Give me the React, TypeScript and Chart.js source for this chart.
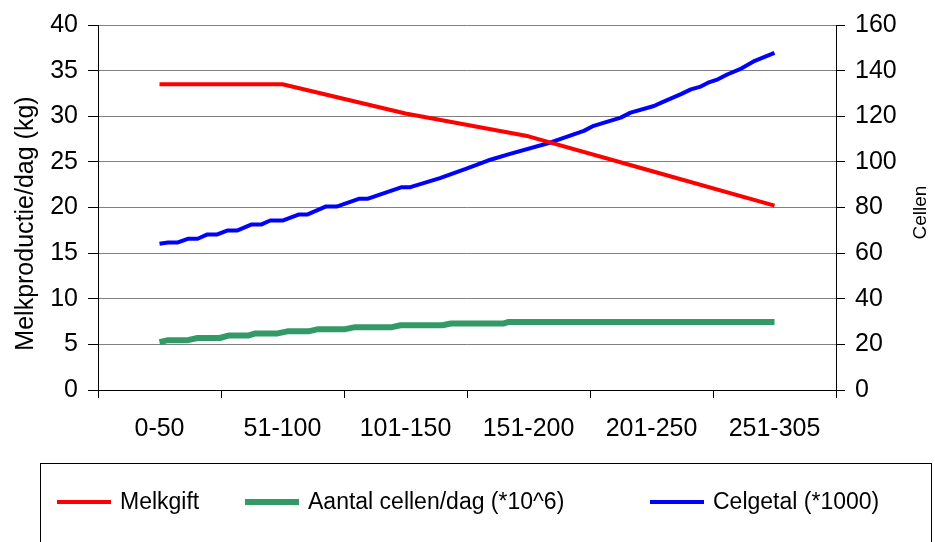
import { useEffect, useRef } from "react";
import { Chart, registerables } from "chart.js";

Chart.register(...registerables);

const FONT = '"Liberation Sans", Arial, sans-serif';

// Lactation periods (days) shown on the x axis
const periods = ["0-50", "51-100", "101-150", "151-200", "201-250", "251-305"];

// x positions are in period units: 0 = middle of "0-50", 5 = middle of "251-305"
const melkgiftPos = [0, 1, 2, 3, 4, 5];
const melkgift = [33.5, 33.5, 30.3, 27.8, 24.0, 20.2];

const cellenPos = [
  0, 0.07, 0.23, 0.31, 0.49, 0.56, 0.72, 0.78, 0.96, 1.04, 1.21, 1.29, 1.51, 1.59,
  1.89, 1.96, 2.3, 2.37, 2.8, 2.84, 5,
];
const cellen = [
  5.25, 5.46, 5.46, 5.7, 5.7, 5.96, 5.96, 6.2, 6.2, 6.43, 6.43, 6.67, 6.67, 6.89,
  6.89, 7.1, 7.1, 7.29, 7.29, 7.46, 7.46,
];

const celgetalPos = [
  0, 0.07, 0.15, 0.23, 0.31, 0.39, 0.47, 0.55, 0.63, 0.75, 0.83, 0.9, 1.0, 1.13, 1.2,
  1.35, 1.44, 1.62, 1.69, 1.97, 2.04, 2.28, 2.49, 2.67, 2.85, 3.18, 3.45, 3.53, 3.75,
  3.83, 4.02, 4.08, 4.24, 4.32, 4.4, 4.46, 4.54, 4.62, 4.73, 4.84, 5,
];
const celgetal = [
  64.1, 64.7, 64.7, 66.3, 66.3, 68.2, 68.2, 69.9, 69.9, 72.6, 72.6, 74.3, 74.3, 76.9,
  76.9, 80.4, 80.4, 83.8, 83.8, 88.9, 88.9, 92.9, 96.9, 100.6, 103.5, 108.5, 113.6,
  115.8, 119.4, 121.6, 124.5, 126.0, 129.7, 131.8, 133.0, 134.7, 136.2, 138.4, 140.9,
  144.3, 147.8,
];

// Left axis: 0-40 kg, right axis: 0-160 cells
const leftTicks = { min: 0, max: 40, step: 5 };
const rightTicks = { min: 0, max: 160, step: 20 };

const leftTitle = "Melkproductie/dag (kg)";
const rightTitle = "Cellen";

const toPoints = (xs: number[], ys: number[]) => xs.map((x, i) => ({ x, y: ys[i] }));

// Axis titles and the boxed legend underneath the plot
const decorations = {
  id: "decorations",
  afterDraw(chart: any) {
    const { ctx, chartArea } = chart;
    const midY = (chartArea.top + chartArea.bottom) / 2;
    ctx.save();
    ctx.fillStyle = "#000";
    ctx.textAlign = "center";
    ctx.textBaseline = "middle";

    ctx.save();
    ctx.font = `25px ${FONT}`;
    ctx.translate(26, midY + 16);
    ctx.rotate(-Math.PI / 2);
    ctx.fillText(leftTitle, 0, 0);
    ctx.restore();

    ctx.save();
    ctx.font = `19px ${FONT}`;
    ctx.translate(921, midY + 5);
    ctx.rotate(-Math.PI / 2);
    ctx.fillText(rightTitle, 0, 0);
    ctx.restore();

    // legend frame
    ctx.strokeStyle = "#000";
    ctx.lineWidth = 1;
    ctx.strokeRect(40.5, 463.5, 891, 140);

    const slots = [57, 245, 650];
    const sampleLen = 54;
    const rowY = 502;
    ctx.textAlign = "left";
    ctx.font = `23px ${FONT}`;
    chart.data.datasets.forEach((ds: any, i: number) => {
      const x0 = slots[i];
      ctx.strokeStyle = ds.borderColor;
      ctx.lineWidth = ds.borderWidth;
      ctx.beginPath();
      ctx.moveTo(x0, rowY);
      ctx.lineTo(x0 + sampleLen, rowY);
      ctx.stroke();
      ctx.fillStyle = "#000";
      ctx.fillText(ds.label, x0 + sampleLen + 9, rowY + 1);
    });
    ctx.restore();
  },
};

export default function App() {
  const canvasRef = useRef<HTMLCanvasElement | null>(null);

  useEffect(() => {
    const canvas = canvasRef.current;
    if (!canvas) return;
    Chart.defaults.font.family = FONT;
    Chart.defaults.color = "#000";

    const tickFont = { family: FONT, size: 25 };

    const chart = new Chart(canvas, {
      type: "line",
      data: {
        datasets: [
          {
            label: "Melkgift",
            data: toPoints(melkgiftPos, melkgift),
            borderColor: "#FF0000",
            backgroundColor: "#FF0000",
            borderWidth: 4,
            yAxisID: "y",
          },
          {
            label: "Aantal cellen/dag (*10^6)",
            data: toPoints(cellenPos, cellen),
            borderColor: "#339966",
            backgroundColor: "#339966",
            borderWidth: 6,
            yAxisID: "y",
          },
          {
            label: "Celgetal (*1000)",
            data: toPoints(celgetalPos, celgetal),
            borderColor: "#0000FF",
            backgroundColor: "#0000FF",
            borderWidth: 4,
            yAxisID: "y2",
          },
        ],
      },
      options: {
        responsive: false,
        animation: false,
        devicePixelRatio: 1,
        layout: { padding: { top: 24, left: 0, right: 0, bottom: 0 } },
        elements: {
          point: { radius: 0, hoverRadius: 0 },
          line: { tension: 0, borderCapStyle: "butt", borderJoinStyle: "round" },
        },
        plugins: {
          legend: { display: false },
          tooltip: { enabled: false },
        },
        scales: {
          x: {
            type: "linear",
            min: -0.5,
            max: periods.length - 0.5,
            afterBuildTicks: (scale: any) => {
              scale.ticks = periods.map((_, i) => ({ value: i }));
            },
            afterFit: (scale: any) => {
              scale.height = 152;
            },
            ticks: {
              autoSkip: false,
              maxRotation: 0,
              padding: 16,
              font: tickFont,
              color: "#000",
              callback: (v: any) => periods[Math.round(Number(v))] ?? "",
            },
            grid: {
              offset: true,
              drawOnChartArea: false,
              drawTicks: true,
              tickLength: 8,
              tickColor: "#000",
            },
            border: { color: "#000", width: 1 },
          },
          y: {
            position: "left",
            min: leftTicks.min,
            max: leftTicks.max,
            afterFit: (scale: any) => {
              scale.width = 98;
            },
            ticks: { stepSize: leftTicks.step, padding: 10, font: tickFont, color: "#000" },
            grid: {
              color: (c: any) => (c.tick && c.tick.value === 0 ? "#000" : "#808080"),
              tickColor: "#000",
              tickLength: 10,
              lineWidth: 1,
            },
            border: { color: "#000", width: 1 },
          },
          y2: {
            position: "right",
            min: rightTicks.min,
            max: rightTicks.max,
            afterFit: (scale: any) => {
              scale.width = 99;
            },
            ticks: { stepSize: rightTicks.step, padding: 10, font: tickFont, color: "#000" },
            grid: { drawOnChartArea: false, tickColor: "#000", tickLength: 9 },
            border: { color: "#000", width: 1 },
          },
        },
      } as any,
      plugins: [decorations],
    });

    return () => chart.destroy();
  }, []);

  return (
    <div style={{ position: "fixed", left: 0, top: 0, width: 935, height: 542, background: "#fff" }}>
      <canvas ref={canvasRef} width={935} height={542} style={{ display: "block", width: 935, height: 542 }} />
    </div>
  );
}
